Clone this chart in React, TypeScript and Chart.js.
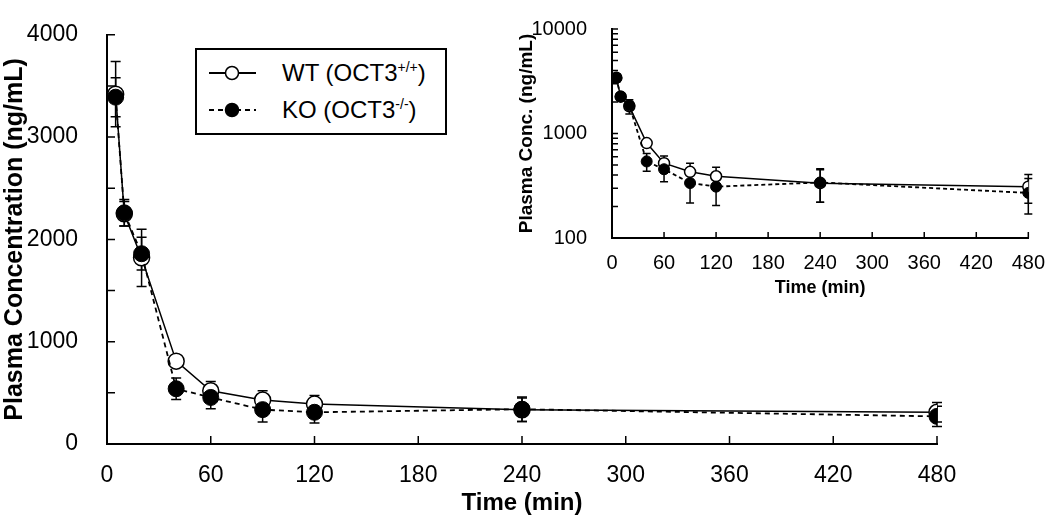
import React, { useEffect, useRef } from 'react';
import { Chart, registerables } from 'chart.js';

Chart.register(...registerables);

// ---- data ----
const timeMin = [5, 10, 20, 40, 60, 90, 120, 240, 480];
const wtMean = [3420, 2250, 1820, 810, 520, 430, 390, 335, 310];
const wtErr = [320, 120, 280, 60, 90, 90, 85, 115, 95];
const koMean = [3390, 2260, 1860, 540, 455, 336, 310, 340, 270];
const koErr = [190, 130, 160, 105, 110, 120, 105, 120, 100];

const xTickValues = [0, 60, 120, 180, 240, 300, 360, 420, 480];
const mainYTickLabels = [0, 1000, 2000, 3000, 4000];
const mainYTickMarks = [0, 500, 1000, 1500, 2000, 2500, 3000, 3500, 4000];
const insetYTickLabels = [100, 1000, 10000];
const insetYTickMarks = [100, 200, 300, 400, 500, 600, 700, 800, 900, 1000, 2000, 3000, 4000, 5000, 6000, 7000, 8000, 9000, 10000];

const FONT = "'Liberation Sans', Arial, sans-serif";

function toPoints(xs: number[], ys: number[]) {
  return xs.map((x, i) => ({ x, y: ys[i] }));
}

function errorBarPlugin(errs: number[][], cap: number, lw: number) {
  return {
    id: 'errbars',
    beforeDatasetsDraw(chart: any) {
      const ctx = chart.ctx;
      const xs = chart.scales.x;
      const ys = chart.scales.y;
      ctx.save();
      ctx.strokeStyle = '#000';
      ctx.lineWidth = lw;
      chart.data.datasets.forEach((ds: any, di: number) => {
        const e = errs[di];
        ds.data.forEach((p: any, i: number) => {
          const x = xs.getPixelForValue(p.x);
          const yHi = ys.getPixelForValue(p.y + e[i]);
          const yLo = ys.getPixelForValue(Math.max(p.y - e[i], ys.min));
          ctx.beginPath();
          ctx.moveTo(x, yHi);
          ctx.lineTo(x, yLo);
          ctx.moveTo(x - cap, yHi);
          ctx.lineTo(x + cap, yHi);
          ctx.moveTo(x - cap, yLo);
          ctx.lineTo(x + cap, yLo);
          ctx.stroke();
        });
      });
      ctx.restore();
    },
  };
}

function tickMarkPlugin(xVals: number[], yVals: number[], len: number, lw: number) {
  return {
    id: 'tickmarks',
    afterDraw(chart: any) {
      const { ctx, chartArea } = chart;
      const xs = chart.scales.x;
      const ys = chart.scales.y;
      ctx.save();
      ctx.strokeStyle = '#000';
      ctx.lineWidth = lw;
      ctx.beginPath();
      xVals.forEach((v) => {
        const px = xs.getPixelForValue(v);
        ctx.moveTo(px, chartArea.bottom);
        ctx.lineTo(px, chartArea.bottom - len);
      });
      yVals.forEach((v) => {
        const py = ys.getPixelForValue(v);
        ctx.moveTo(chartArea.left, py);
        ctx.lineTo(chartArea.left + len, py);
      });
      ctx.stroke();
      ctx.restore();
    },
  };
}

function makeDatasets(radius: number, dash: number[], lw: number) {
  return [
    {
      label: 'WT (OCT3+/+)',
      data: toPoints(timeMin, wtMean),
      borderColor: '#000',
      borderWidth: lw,
      pointRadius: radius,
      pointBackgroundColor: '#fff',
      pointBorderColor: '#000',
      pointBorderWidth: 1.5,
      pointHoverRadius: radius,
      tension: 0,
      fill: false,
      order: 2,
    },
    {
      label: 'KO (OCT3-/-)',
      data: toPoints(timeMin, koMean),
      borderColor: '#000',
      borderWidth: lw + 0.3,
      borderDash: dash,
      pointRadius: radius,
      pointBackgroundColor: '#000',
      pointBorderColor: '#000',
      pointBorderWidth: 1,
      pointHoverRadius: radius,
      tension: 0,
      fill: false,
      order: 1,
    },
  ];
}

function MainChart() {
  const ref = useRef<HTMLCanvasElement | null>(null);
  useEffect(() => {
    if (!ref.current) return;
    const chart = new Chart(ref.current, {
      type: 'line',
      data: { datasets: makeDatasets(8, [5, 4], 1.5) as any },
      options: {
        animation: false,
        responsive: false,
        devicePixelRatio: 1,
        events: [],
        layout: { padding: { left: 0, top: 15, right: 113, bottom: 0 } },
        plugins: { legend: { display: false }, tooltip: { enabled: false } },
        scales: {
          x: {
            type: 'linear',
            min: 0,
            max: 480,
            afterFit: (s: any) => { s.height = 81; },
            afterBuildTicks: (s: any) => { s.ticks = xTickValues.map((v) => ({ value: v })); },
            grid: { display: false },
            border: { display: true, color: '#000', width: 2 },
            ticks: { font: { family: FONT, size: 23 }, color: '#000', padding: 10, maxRotation: 0, autoSkip: false, callback: (v: any) => String(v) },
            title: { display: true, text: 'Time (min)', font: { family: FONT, size: 24, weight: 'bold' }, color: '#000', padding: { top: 0, bottom: 7 } },
          },
          y: {
            type: 'linear',
            min: 0,
            max: 4000,
            afterFit: (s: any) => { s.width = 107; },
            afterBuildTicks: (s: any) => { s.ticks = mainYTickLabels.map((v) => ({ value: v })); },
            grid: { display: false },
            border: { display: true, color: '#000', width: 2 },
            ticks: { font: { family: FONT, size: 23 }, color: '#000', padding: 21, autoSkip: false, callback: (v: any) => String(v) },
            title: { display: true, text: 'Plasma Concentration (ng/mL)', font: { family: FONT, size: 25, weight: 'bold' }, color: '#000', padding: { top: 0, bottom: 0 } },
          },
        },
      } as any,
      plugins: [errorBarPlugin([wtErr, koErr], 5, 1.5), tickMarkPlugin(xTickValues, mainYTickMarks, 8, 1.5)],
    });
    return () => chart.destroy();
  }, []);
  return <canvas ref={ref} width={1050} height={525} style={{ position: 'absolute', left: 0, top: 0, width: 1050, height: 525 }} />;
}

function InsetChart() {
  const ref = useRef<HTMLCanvasElement | null>(null);
  useEffect(() => {
    if (!ref.current) return;
    const chart = new Chart(ref.current, {
      type: 'line',
      data: { datasets: makeDatasets(5.5, [4, 3], 1.5) as any },
      options: {
        animation: false,
        responsive: false,
        devicePixelRatio: 1,
        events: [],
        layout: { padding: { left: 0, top: 15, right: 18, bottom: 0 } },
        plugins: { legend: { display: false }, tooltip: { enabled: false } },
        scales: {
          x: {
            type: 'linear',
            min: 0,
            max: 480,
            afterFit: (s: any) => { s.height = 72; },
            afterBuildTicks: (s: any) => { s.ticks = xTickValues.map((v) => ({ value: v })); },
            grid: { display: false },
            border: { display: true, color: '#000', width: 2 },
            ticks: { font: { family: FONT, size: 20 }, color: '#000', padding: 5, maxRotation: 0, autoSkip: false, callback: (v: any) => String(v) },
            title: { display: true, text: 'Time (min)', font: { family: FONT, size: 18, weight: 'bold' }, color: '#000', padding: { top: 0, bottom: 11 } },
          },
          y: {
            type: 'logarithmic',
            min: 100,
            max: 10000,
            afterFit: (s: any) => { s.width = 112; },
            afterBuildTicks: (s: any) => { s.ticks = insetYTickLabels.map((v) => ({ value: v })); },
            grid: { display: false },
            border: { display: true, color: '#000', width: 2 },
            ticks: { font: { family: FONT, size: 20 }, color: '#000', padding: 17, autoSkip: false, callback: (v: any) => String(v) },
            title: { display: true, text: 'Plasma Conc. (ng/mL)', font: { family: FONT, size: 19, weight: 'bold' }, color: '#000', padding: { top: 15, bottom: 0 } },
          },
        },
      } as any,
      plugins: [errorBarPlugin([wtErr, koErr], 4, 1.5), tickMarkPlugin(xTickValues, insetYTickMarks, 6, 1.5)],
    });
    return () => chart.destroy();
  }, []);
  return <canvas ref={ref} width={550} height={310} style={{ position: 'absolute', left: 500, top: 0, width: 550, height: 310 }} />;
}

function LegendRow({ cy, filled, dashed, main, sup }: { cy: number; filled: boolean; dashed: boolean; main: string; sup: string }) {
  return (
    <>
      <svg width={50} height={20} style={{ position: 'absolute', left: 11, top: cy - 10 }}>
        <line x1={1} y1={10} x2={48} y2={10} stroke="#000" strokeWidth={1.8} strokeDasharray={dashed ? '5 4' : undefined} />
        <circle cx={24} cy={10} r={6.5} fill={filled ? '#000' : '#fff'} stroke="#000" strokeWidth={1.5} />
      </svg>
      <div style={{ position: 'absolute', left: 85, top: cy - 15, height: 30, lineHeight: '30px', whiteSpace: 'nowrap' }}>
        {main}
        <span style={{ fontSize: 14, position: 'relative', top: -9 }}>{sup}</span>)
      </div>
    </>
  );
}

export default function App() {
  return (
    <div style={{ position: 'fixed', left: 0, top: 0, width: 1050, height: 525, background: '#fff', overflow: 'hidden' }}>
      <MainChart />
      <InsetChart />
      <div
        style={{
          position: 'absolute',
          left: 195,
          top: 48,
          width: 248,
          height: 83,
          border: '2px solid #000',
          background: '#fff',
          fontFamily: FONT,
          fontSize: 24,
          color: '#000',
        }}
      >
        <LegendRow cy={23} filled={false} dashed={false} main="WT (OCT3" sup="+/+" />
        <LegendRow cy={60} filled={true} dashed={true} main="KO (OCT3" sup="-/-" />
      </div>
    </div>
  );
}
